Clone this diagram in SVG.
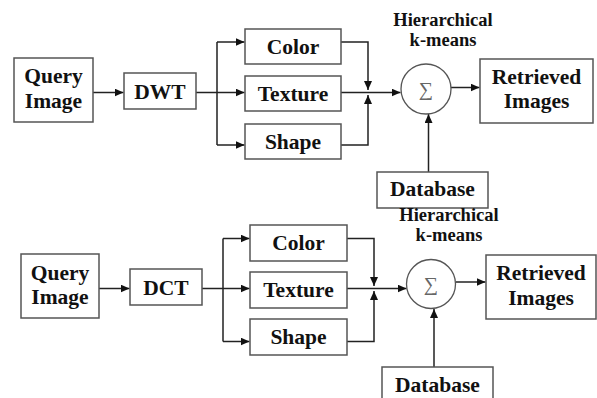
<svg xmlns="http://www.w3.org/2000/svg" width="597" height="398" viewBox="0 0 597 398">
<defs>
<marker id="ah" markerUnits="userSpaceOnUse" markerWidth="10" markerHeight="8" refX="9" refY="4" orient="auto">
<path d="M0,0 L9,4 L0,8 Z" fill="#111"/>
</marker>
<style>
.box{fill:#fff;stroke:#555;stroke-width:1.5}
.c{fill:none;stroke:#222;stroke-width:1.5}
.a{marker-end:url(#ah)}
.t{font-weight:bold;font-size:21.5px;fill:#111;text-anchor:middle}
.h{font-weight:bold;font-size:18.5px;fill:#111;text-anchor:middle}
.s{font-size:20px;fill:#666;text-anchor:middle}
.circ{fill:#fff;stroke:#555;stroke-width:1.3}
</style>
</defs>
<rect width="597" height="398" fill="#fff"/>
<g id="connectors">
<path class="c a" d="M93,92.5 H123.5"/>
<path class="c" d="M196,92.5 H217 M217,42 V145"/>
<path class="c a" d="M217,42 H244.5"/>
<path class="c a" d="M217,92.5 H244.5"/>
<path class="c a" d="M217,145 H244.5"/>
<path class="c a" d="M341,42 H368 V90"/>
<path class="c a" d="M341,145 H368 V95"/>
<path class="c a" d="M341,92.5 H400.5"/>
<path class="c a" d="M451,87.5 H479.5"/>
<path class="c a" d="M428.5,172 V114"/>
<path class="c a" d="M99,288.5 H129.5"/>
<path class="c" d="M202,288.5 H223 M223,238.5 V341.5"/>
<path class="c a" d="M223,238.5 H249.5"/>
<path class="c a" d="M223,288.5 H249.5"/>
<path class="c a" d="M223,341.5 H249.5"/>
<path class="c a" d="M347,238.5 H374 V286"/>
<path class="c a" d="M347,341.5 H374 V291"/>
<path class="c a" d="M347,288.5 H406.5"/>
<path class="c a" d="M456,282 H485.5"/>
<path class="c a" d="M434,367 V309"/>
</g>
<g font-family="Liberation Serif, DejaVu Serif, serif">
<g id="query1"><rect class="box" x="14" y="58" width="79" height="64"/><text class="t" x="53.5" y="83">Query</text><text class="t" x="53.5" y="107.5">Image</text></g>
<g id="dwt"><rect class="box" x="124" y="73" width="72" height="36"/><text class="t" x="160" y="99">DWT</text></g>
<g id="color1"><rect class="box" x="245" y="29" width="96" height="35"/><text class="t" x="293" y="53.5">Color</text></g>
<g id="texture1"><rect class="box" x="245" y="76" width="96" height="35"/><text class="t" x="293" y="101">Texture</text></g>
<g id="shape1"><rect class="box" x="245" y="124" width="96" height="35"/><text class="t" x="293" y="149">Shape</text></g>
<g id="label1"><text class="h" x="443" y="26">Hierarchical</text><text class="h" x="443" y="46">k-means</text></g>
<g id="sum1"><circle class="circ" cx="426" cy="89" r="25"/><text class="s" x="426" y="96">∑</text></g>
<g id="retrieved1"><rect class="box" x="480" y="59" width="113" height="64"/><text class="t" x="536.5" y="83.5">Retrieved</text><text class="t" x="536.5" y="108">Images</text></g>
<g id="database1"><rect class="box" x="377" y="172" width="111" height="36"/><text class="t" x="432.5" y="196">Database</text></g>
<g id="query2"><rect class="box" x="21" y="254" width="78" height="64"/><text class="t" x="60" y="280">Query</text><text class="t" x="60" y="304">Image</text></g>
<g id="dct"><rect class="box" x="130" y="269" width="72" height="36"/><text class="t" x="166" y="295">DCT</text></g>
<g id="color2"><rect class="box" x="250" y="225" width="97" height="36"/><text class="t" x="298.5" y="250">Color</text></g>
<g id="texture2"><rect class="box" x="250" y="272" width="97" height="36"/><text class="t" x="298.5" y="297">Texture</text></g>
<g id="shape2"><rect class="box" x="250" y="319" width="97" height="36"/><text class="t" x="298.5" y="344">Shape</text></g>
<g id="label2"><text class="h" x="449" y="221">Hierarchical</text><text class="h" x="449" y="241">k-means</text></g>
<g id="sum2"><circle class="circ" cx="431" cy="284" r="24.5"/><text class="s" x="431" y="291">∑</text></g>
<g id="retrieved2"><rect class="box" x="486" y="255" width="110" height="64"/><text class="t" x="541" y="280">Retrieved</text><text class="t" x="541" y="305">Images</text></g>
<g id="database2"><rect class="box" x="382" y="367" width="111" height="45"/><text class="t" x="437.5" y="392">Database</text></g>
</g>
</svg>
